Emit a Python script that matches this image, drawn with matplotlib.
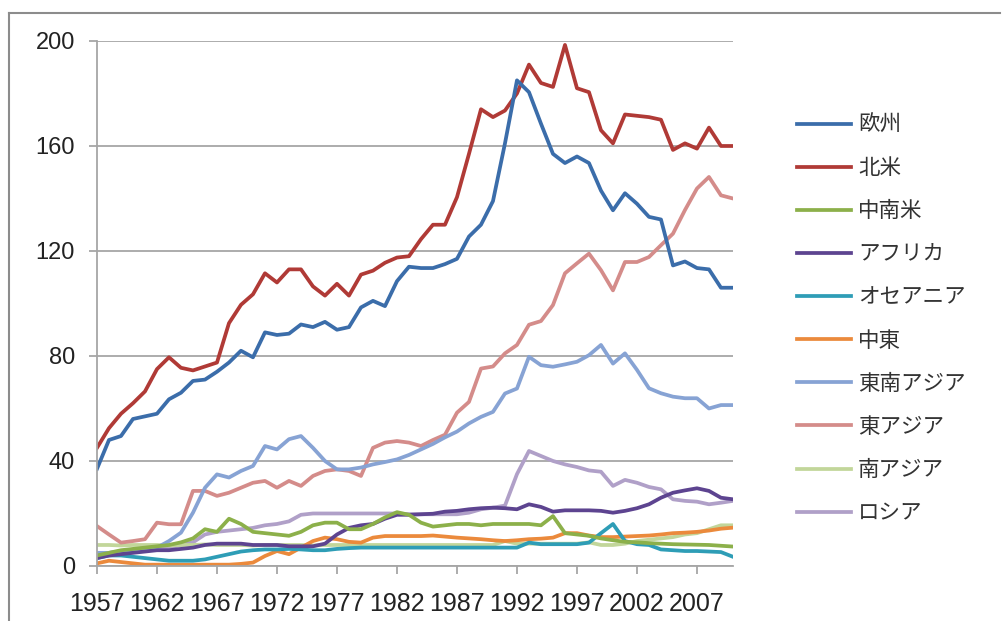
import numpy as np
import matplotlib
matplotlib.use("Agg")
import matplotlib.pyplot as plt
from matplotlib.lines import Line2D

plt.rcParams["font.family"] = ["Liberation Sans", "Noto Sans CJK JP", "DejaVu Sans"]

years = list(range(1957, 2011))
tick_years = [1957, 1962, 1967, 1972, 1977, 1982, 1987, 1992, 1997, 2002, 2007]

europe = [37, 48, 49.5, 56, 57, 58, 63.5, 66, 70.5, 71, 74, 77.5, 82, 79.5, 89, 88, 88.5, 92,
          91, 93, 90, 91, 98.5, 101, 99, 108.5, 114, 113.5, 113.5, 115, 117, 125.5, 130, 139,
          161, 185, 180.5, 168.5, 157, 153.5, 156, 153.5, 143, 135.5, 142, 138, 133, 132,
          114.5, 116, 113.5, 113, 106, 106]
north_america = [45, 52.5, 58, 62, 66.5, 75, 79.5, 75.5, 74.5, 76, 77.5, 92.5, 99.5, 103.5, 111.5,
                 108, 113, 113, 106.5, 103, 107.5, 103, 111, 112.5, 115.5, 117.5, 118, 124.5, 130,
                 130, 140.5, 157, 174, 171, 173.5, 180, 191, 184, 182.5, 198.5, 182, 180.5, 166,
                 161, 172, 171.5, 171, 170, 158.5, 161, 159, 167, 160, 160]
latin_america = [4, 5, 6, 6.5, 7, 7.5, 8, 9, 10.5, 14, 13, 18, 16, 13, 12.5, 12, 11.5, 13, 15.5,
                 16.5, 16.5, 14, 14, 16, 18.5, 20.5, 19.5, 16.5, 15, 15.5, 16, 16, 15.5, 16, 16,
                 16, 16, 15.5, 19, 12.5, 12, 11.5, 10.5, 9.8, 9.2, 9, 8.7, 8.5, 8.3, 8.2, 8.1, 8,
                 7.7, 7.4]
africa = [3, 4, 4.5, 5, 5.5, 6, 6, 6.5, 7, 8, 8.5, 8.5, 8.5, 8, 8, 8, 7.5, 7.5, 7.5, 8.5, 12,
          14.5, 15.5, 16, 18, 19.5, 19.5, 19.7, 19.9, 20.7, 21, 21.6, 22, 22.2, 22, 21.6, 23.5,
          22.5, 20.7, 21.2, 21.2, 21.2, 21, 20.3, 21, 22, 23.5, 26, 27.9, 28.8, 29.6, 28.6, 26,
          25.4]
oceania = [3, 4, 4, 3.5, 3, 2.5, 2, 2, 2, 2.5, 3.5, 4.5, 5.5, 6, 6.3, 6.3, 6.5, 6.3, 6, 6, 6.5,
           6.8, 7, 7, 7, 7, 7, 7, 7, 7, 7, 7, 7, 7, 7, 7, 8.9, 8.3, 8.3, 8.3, 8.3, 8.9, 12.5, 16,
           9.5, 8.3, 8, 6.3, 6, 5.7, 5.7, 5.5, 5.3, 3.5]
middle_east = [1, 2, 1.5, 1, 0.5, 0.5, 0.5, 0.5, 0.5, 0.5, 0.5, 0.5, 0.8, 1.3, 3.8, 5.7, 4.5, 7,
               9.5, 10.8, 10.2, 9.2, 8.9, 10.8, 11.4, 11.4, 11.4, 11.4, 11.6, 11.2, 10.8, 10.5,
               10.2, 9.8, 9.5, 9.8, 10.2, 10.4, 10.8, 12.5, 12.5, 11.6, 11, 11, 11.2, 11.4, 11.6,
               12, 12.5, 12.7, 13, 13.5, 14.2, 14.6]
se_asia = [5, 5, 5.5, 6, 6.5, 7, 9.5, 12.7, 20.3, 29.8, 34.9, 33.7, 36.2, 38.1, 45.7, 44.4, 48.3,
           49.5, 45, 40, 36.8, 36.8, 37.5, 38.7, 39.6, 40.6, 42.3, 44.4, 46.5, 49, 51.2, 54.3,
           56.8, 58.7, 65.7, 67.6, 79.7, 76.5, 75.9, 76.8, 77.8, 80.3, 84.2, 77.1, 81, 74.7,
           67.7, 65.8, 64.5, 63.9, 63.9, 60, 61.3, 61.3]
east_asia = [15.2, 12, 8.9, 9.5, 10.2, 16.5, 15.9, 15.9, 28.6, 28.6, 26.7, 27.9, 29.8, 31.7,
             32.4, 29.8, 32.4, 30.5, 34.3, 36.2, 36.8, 36.2, 34.3, 45, 47, 47.6, 47, 45.7, 48,
             50, 58.4, 62.5, 75.2, 76, 81, 84.2, 91.9, 93.3, 99.4, 111.5, 115.3, 119, 112.7,
             105, 115.8, 115.8, 117.7, 122.2, 126.6, 135.6, 143.8, 148.2, 141.2, 140]
south_asia = [8, 8, 7.8, 8, 8, 8, 7.8, 8, 8, 8.2, 8, 8, 8, 7.8, 8, 8, 8, 8, 7.8, 8, 8, 8, 8, 8,
              8, 8, 8, 8, 8, 8, 8, 8, 8, 8, 9.5, 8.5, 8.5, 8.5, 8.5, 8.5, 8.5, 9, 8, 8, 8.5, 9.5,
              10, 10.5, 11, 12, 12.5, 14, 15.5, 15.5]
russia = [4, 5, 5.5, 6, 6, 6.5, 7, 8, 9, 12, 13, 13.5, 14, 14.5, 15.5, 16, 17, 19.5, 20, 20, 20,
          20, 20, 20, 20, 20, 19.7, 19.7, 19.7, 19.7, 19.7, 20.3, 21.6, 22.2, 23, 35, 43.8, 41.9,
          40, 38.7, 37.7, 36.4, 35.9, 30.5, 32.8, 31.7, 30.1, 29.2, 25.4, 24.8, 24.5, 23.5, 24.1,
          24.8]

series = [
    ("欧州", europe, "#3B6DAA"),
    ("北米", north_america, "#B03A36"),
    ("中南米", latin_america, "#8CB04A"),
    ("アフリカ", africa, "#5D4490"),
    ("オセアニア", oceania, "#2E9DB6"),
    ("中東", middle_east, "#EB8A3C"),
    ("東南アジア", se_asia, "#87A3D4"),
    ("東アジア", east_asia, "#D48C8A"),
    ("南アジア", south_asia, "#C2D69A"),
    ("ロシア", russia, "#B0A0C8"),
]

fig = plt.figure(figsize=(10.06, 6.21), dpi=100)
ax = fig.add_axes([0.0964, 0.0886, 0.6322, 0.8454])

# draw in reverse so the first series sits on top, like Excel
for name, vals, col in reversed(series):
    ax.plot(years, vals, color=col, lw=2.7, label=name, solid_joinstyle="round")

ax.set_xlim(1957, 2010)
ax.set_ylim(0, 200)
ax.set_yticks([0, 40, 80, 120, 160, 200])
ax.set_xticks(tick_years)
ax.set_xticklabels([str(y) for y in tick_years])
ax.grid(axis="y", color="#A6A6A6", lw=1.3)
ax.set_axisbelow(True)

for s in ["top", "right"]:
    ax.spines[s].set_visible(False)
for s in ["left", "bottom"]:
    ax.spines[s].set_color("#A6A6A6")
    ax.spines[s].set_linewidth(1.3)

ax.tick_params(axis="y", length=6, width=1.3, color="#A6A6A6", pad=10, labelsize=17,
               labelcolor="#222222")
ax.tick_params(axis="x", length=6, width=1.3, color="#A6A6A6", pad=13, labelsize=18,
               labelcolor="#222222")

handles, labels = ax.get_legend_handles_labels()
handles, labels = handles[::-1], labels[::-1]
fig.legend(handles, labels, loc="upper left", bbox_to_anchor=(0.792, 0.816),
           frameon=False, prop={"family": ["Noto Sans CJK JP", "DejaVu Sans"], "size": 15.5},
           handlelength=2.5, handletextpad=0.35, labelspacing=0.98, borderpad=0,
           borderaxespad=0, labelcolor="#333333")

# chart area border (left and top edges visible in the reference)
fig.add_artist(Line2D([9 / 1006, 9 / 1006], [0, 1 - 13 / 621], color="#8C8C8C", lw=1.5,
                      transform=fig.transFigure))
fig.add_artist(Line2D([9 / 1006, 1000 / 1006], [1 - 13 / 621, 1 - 13 / 621], color="#8C8C8C",
                      lw=1.5, transform=fig.transFigure))

fig.savefig("out.png", dpi=100)
